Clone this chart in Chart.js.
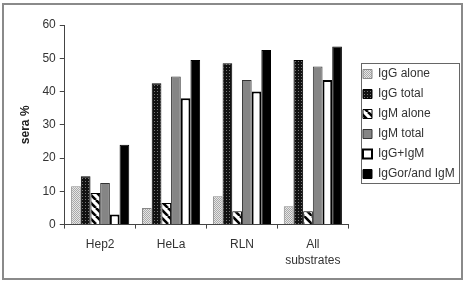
<!DOCTYPE html>
<html><head><meta charset="utf-8">
<script src="https://cdn.jsdelivr.net/npm/chart.js@4.4.0/dist/chart.umd.min.js"></script>
<style>html,body{margin:0;padding:0;background:#fff}#w{position:absolute;left:0;top:0;width:468px;height:288px}</style>
</head><body><div id="w"><canvas id="c" width="468" height="288"></canvas></div>
<script>
const categories = ["Hep2", "HeLa", "RLN", ["All", "substrates"]];
const seriesNames = ["IgG alone", "IgG total", "IgM alone", "IgM total", "IgG+IgM", "IgGor/and IgM"];
const igGAlone = [11.5, 5, 8.5, 5.5];
const igGTotal = [14.5, 42.5, 48.5, 49.5];
const igMAlone = [9.5, 6.5, 4, 4];
const igMTotal = [12.5, 44.5, 43.5, 47.5];
const igGplusIgM = [3, 38, 40, 43.5];
const igGorIgM = [24, 49.5, 52.5, 53.5];
const yTicks = [0, 10, 20, 30, 40, 50, 60];

function pat(size, draw){
  const c = document.createElement('canvas'); c.width = size; c.height = size;
  const x = c.getContext('2d'); draw(x, size);
  return x.createPattern(c, 'repeat');
}
const ctx0 = document.getElementById('c').getContext('2d');
const pDots = pat(2, (x)=>{x.fillStyle='#e6e6e6';x.fillRect(0,0,2,2);x.fillStyle='#a8a8a8';x.fillRect(0,0,1,1);x.fillRect(1,1,1,1);});
const pDark = pat(3, (x)=>{x.fillStyle='#111';x.fillRect(0,0,3,3);x.fillStyle='#777';x.fillRect(1,1,1,1);});
const pStripe = pat(8, (x,s)=>{x.fillStyle='#fff';x.fillRect(0,0,s,s);x.strokeStyle='#000';x.lineWidth=2.6;
  for(let k=-1;k<=1;k++){x.beginPath();x.moveTo(k*s,0);x.lineTo(k*s+s,s);x.stroke();}});

const datasets = [
  {label: seriesNames[0], data: igGAlone, backgroundColor: pDots, borderColor:'#888', borderWidth:1},
  {label: seriesNames[1], data: igGTotal, backgroundColor: pDark, borderColor:'#000', borderWidth:1},
  {label: seriesNames[2], data: igMAlone, backgroundColor: pStripe, borderColor:'#000', borderWidth:1},
  {label: seriesNames[3], data: igMTotal, backgroundColor: '#858585', borderColor:'#333', borderWidth:1},
  {label: seriesNames[4], data: igGplusIgM, backgroundColor: '#fff', borderColor:'#000', borderWidth:2},
  {label: seriesNames[5], data: igGorIgM, backgroundColor: '#000', borderColor:'#000', borderWidth:1}
];
datasets.forEach(d=>{d.borderSkipped='bottom';});

const frame = {
  id:'frame',
  afterLayout(chart){
    const l = chart.legend;
    const w = l.width, h = l.height;
    l.left = 355; l.right = l.left + w; l.top = 60; l.bottom = l.top + h;
  },
  beforeDraw(chart){
    const c = chart.ctx; c.save(); c.strokeStyle='#8a8a8a'; c.lineWidth=2;
    c.strokeRect(3,4,459,275); c.restore();
  },
  afterDraw(chart){
    const c = chart.ctx; c.save(); c.strokeStyle='#666'; c.lineWidth=1;
    c.strokeRect(361.5, 63.5, 98, 120); c.restore();
  }
};

new Chart(ctx0, {
  type:'bar',
  data:{labels: categories, datasets},
  plugins:[frame],
  options:{
    responsive:false, animation:false,
    layout:{padding:{left:18, top:25, right:10, bottom:11}},
    datasets:{bar:{categoryPercentage:0.82, barPercentage:1}},
    plugins:{
      legend:{position:'right', align:'start',
        labels:{boxWidth:9, boxHeight:9, padding:8, color:'#333', font:{family:'Liberation Sans, Arial', size:12}}},
      tooltip:{enabled:false}
    },
    scales:{
      x:{grid:{display:true, drawOnChartArea:false, color:'#444', tickLength:4},
         border:{color:'#444'},
         ticks:{color:'#333', font:{family:'Liberation Sans, Arial', size:12, lineHeight:1.35}, padding:8}},
      y:{min:0, max:60, afterBuildTicks(s){s.ticks = yTicks.map(v=>({value:v}));},
         grid:{display:true, drawOnChartArea:false, color:'#444', tickLength:5},
         border:{color:'#444'},
         title:{display:true, text:'sera %', color:'#222', font:{family:'Liberation Sans, Arial', size:12, weight:'bold'}, padding:{top:0,bottom:6}},
         ticks:{color:'#333', font:{family:'Liberation Sans, Arial', size:12}, padding:4}}
    }
  }
});
</script></body></html>
